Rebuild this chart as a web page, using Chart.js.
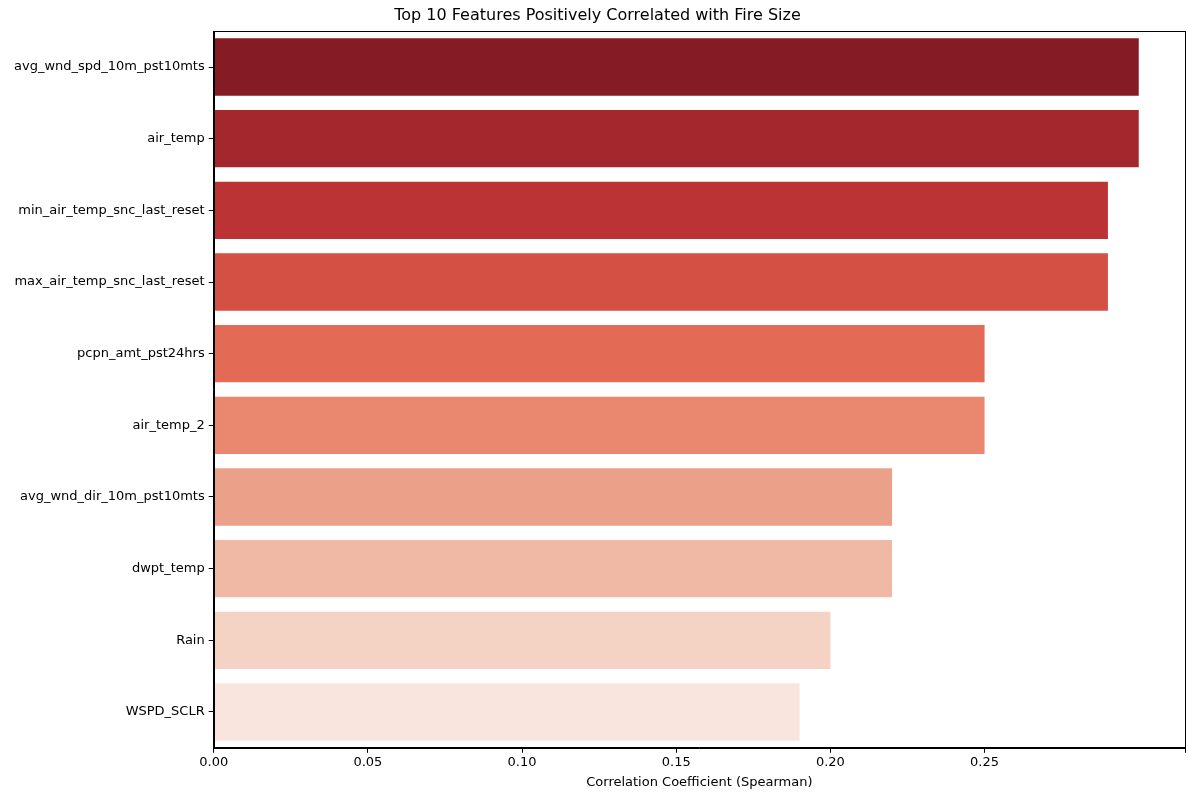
<!DOCTYPE html>
<html>
<head>
<meta charset="utf-8">
<script src="https://cdn.jsdelivr.net/npm/chart.js@4"></script>
<style>
  body { margin: 0; background: #fff; }
  #wrap { width: 1200px; height: 800px; }
</style>
</head>
<body>
<div id="wrap"><canvas id="fireChart" width="1200" height="800"></canvas></div>
<script>
// features and their Spearman correlation with fire size
const features = ['avg_wnd_spd_10m_pst10mts', 'air_temp', 'min_air_temp_snc_last_reset',
  'max_air_temp_snc_last_reset', 'pcpn_amt_pst24hrs', 'air_temp_2',
  'avg_wnd_dir_10m_pst10mts', 'dwpt_temp', 'Rain', 'WSPD_SCLR'];
const correlations = [0.30, 0.30, 0.29, 0.29, 0.25, 0.25, 0.22, 0.22, 0.20, 0.19];
const barColors = ['#851b24', '#a3272d', '#bc3336', '#d44f44', '#e36b56',
  '#e9886f', '#eba089', '#f0b9a5', '#f4d3c4', '#f9e5de'];

// matplotlib-style box around the plot area
const frame = {
  id: 'frame',
  afterDraw(chart) {
    const a = chart.chartArea, c = chart.ctx;
    c.save();
    c.strokeStyle = '#000';
    c.lineWidth = 1;
    c.strokeRect(Math.round(a.left) + 0.5, Math.round(a.top) + 0.5,
      Math.round(a.right - a.left), Math.round(a.bottom - a.top));
    c.restore();
  }
};

Chart.defaults.font.family = 'DejaVu Sans';
Chart.defaults.color = '#000';

new Chart(document.getElementById('fireChart'), {
  type: 'bar',
  data: {
    labels: features,
    datasets: [{
      data: correlations,
      backgroundColor: barColors,
      categoryPercentage: 1.0,
      barPercentage: 0.8
    }]
  },
  options: {
    indexAxis: 'y',
    responsive: false,
    animation: false,
    layout: { padding: { left: 10, right: 15, top: 4, bottom: 6 } },
    plugins: {
      legend: { display: false },
      tooltip: { enabled: false },
      title: {
        display: true,
        text: 'Top 10 Features Positively Correlated with Fire Size',
        font: { size: 16, weight: 'normal' },
        padding: { top: 2, bottom: 6 }
      }
    },
    scales: {
      x: {
        min: 0,
        max: 0.315,
        grid: { display: true, drawOnChartArea: false, tickLength: 5, color: '#000' },
        border: { display: true, color: '#000' },
        ticks: {
          stepSize: 0.05,
          font: { size: 13 },
          padding: 2,
          callback: v => (Math.abs(v * 20 - Math.round(v * 20)) < 1e-6) ? v.toFixed(2) : ''
        },
        title: {
          display: true,
          text: 'Correlation Coefficient (Spearman)',
          font: { size: 13 },
          padding: { top: 2 }
        }
      },
      y: {
        grid: { display: true, drawOnChartArea: false, tickLength: 5, color: '#000', offset: false },
        border: { display: true, color: '#000' },
        ticks: { font: { size: 13 }, padding: 4 }
      }
    }
  },
  plugins: [frame]
});
</script>
</body>
</html>
